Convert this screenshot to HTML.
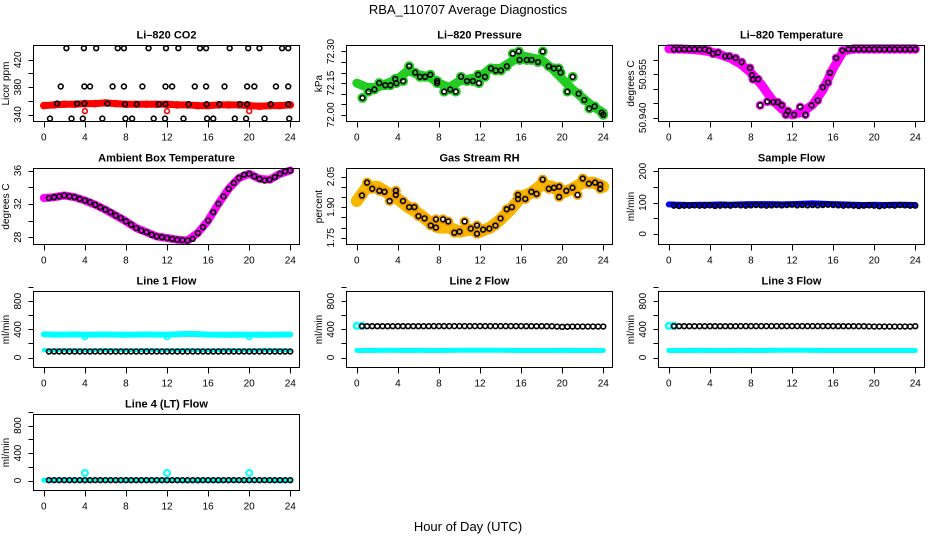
<!DOCTYPE html>
<html><head><meta charset="utf-8"><style>
body{margin:0;background:#fff}
svg{display:block;font-family:"Liberation Sans",Arial,sans-serif}
</style></head><body>
<svg id="chart" width="936" height="540" viewBox="0 0 936 540" xmlns="http://www.w3.org/2000/svg">
<rect width="936" height="540" fill="#fff"/>
<text x="468" y="14" font-size="13" text-anchor="middle">RBA_110707  Average Diagnostics</text>
<text x="468" y="531" font-size="13" text-anchor="middle">Hour of Day (UTC)</text>
</svg>
<script>
const H25=[0,1,2,3,4,5,6,7,8,9,10,11,12,13,14,15,16,17,18,19,20,21,22,23,24];
const HH=[0.5,1,1.5,2,2.5,3,3.5,4,4.5,5,5.5,6,6.5,7,7.5,8,8.5,9,9.5,10,10.5,11,11.5,12,12.5,13,13.5,14,14.5,15,15.5,16,16.5,17,17.5,18,18.5,19,19.5,20,20.5,21,21.5,22,22.5,23,23.5,24];
const xTicks=[0,4,8,12,16,20,24];

// CO2
const co2Band=[353,354,355,355,356,356,357,356,355,355,355,355,355,354,354,353,353,354,354,354,353,352,353,353,354];
const co2OutHours=[4,12,20];
const co2Out=[345,345,345];
const co2PtHours=[2.2,3.9,5.1,7.2,7.8,10.2,11.9,13.1,15.2,15.8,18.1,19.9,21.0,23.2,23.8,
1.65,3.95,4.5,6.7,7.8,9.6,11.85,12.5,14.7,15.8,17.6,19.8,20.5,22.6,23.8,
1.3,3.25,3.95,6.2,7.9,9.05,11.2,11.85,14.1,15.85,17.1,19.1,19.8,22.1,23.8,
0.6,2.7,3.8,5.7,7.95,8.6,10.7,11.8,13.6,15.9,16.5,18.6,19.7,21.5,23.9];
const co2PtVals=[437,437,437,437,437,437,437,437,437,437,437,437,437,437,437,
381,381,381,381,381,381,381,381,381,381,381,381,381,381,381,
356,356,356,356,355,355,355,355,355,355,355,355,355,355,355,
334,334,334,334,334,334,334,334,334,334,334,334,334,334,334];

// Pressure
const presBand=[72.15,72.13,72.13,72.15,72.17,72.21,72.19,72.18,72.15,72.13,72.16,72.17,72.18,72.22,72.22,72.25,72.28,72.27,72.26,72.22,72.17,72.12,72.08,72.04,72.01];
const presPtHours=[0.55,1.14,1.72,2.18,2.77,3.27,3.74,3.85,4.51,5.10,5.68,6.15,6.65,7.16,7.82,7.82,8.51,9.10,9.64,10.15,10.73,11.31,11.82,11.89,12.48,13.06,13.52,14.03,14.61,15.19,15.78,15.85,16.55,17.02,17.64,18.11,18.69,19.19,19.66,19.85,20.51,21.02,21.60,22.15,22.65,23.16,23.85,24.0];
const presPtVals=[72.08,72.11,72.12,72.15,72.14,72.14,72.17,72.15,72.16,72.23,72.20,72.18,72.18,72.19,72.16,72.15,72.11,72.12,72.11,72.18,72.16,72.16,72.19,72.15,72.18,72.22,72.21,72.21,72.23,72.29,72.30,72.26,72.26,72.26,72.25,72.30,72.23,72.22,72.22,72.20,72.11,72.18,72.10,72.07,72.03,72.04,72.01,72.00];

// Li-820 temperature
const tempBand=[50.9638,50.9638,50.9636,50.9633,50.9628,50.9618,50.9605,50.9585,50.9555,50.9515,50.9465,50.9430,50.9410,50.9420,50.9445,50.9495,50.9570,50.9630,50.9638,50.9638,50.9638,50.9638,50.9638,50.9638,50.9638];
const tempPtHours=[0.5,1.0,1.5,2.0,2.5,3.0,3.5,3.9,4.3,4.8,5.5,5.9,6.5,7.1,7.9,8.1,8.2,8.7,8.9,9.6,10.2,10.6,11.0,11.4,11.6,12.2,12.8,13.3,13.9,14.5,15.0,15.5,15.7,16.3,16.9,17.5,18,18.5,19,19.5,20,20.5,21,21.5,22,22.5,23,23.5,24];
const tempPtVals=[50.9636,50.9636,50.9636,50.9636,50.9636,50.9636,50.9636,50.9632,50.9621,50.9625,50.9612,50.9612,50.9606,50.9592,50.9572,50.9547,50.9533,50.9533,50.9443,50.9456,50.9454,50.9454,50.9443,50.9411,50.9423,50.9411,50.9437,50.9411,50.9443,50.9460,50.9505,50.9522,50.9555,50.9606,50.9632,50.9636,50.9636,50.9636,50.9636,50.9636,50.9636,50.9636,50.9636,50.9636,50.9636,50.9636,50.9636,50.9636,50.9636];

// Ambient box temperature
const ambBand=[32.7,32.8,33.0,32.8,32.4,31.9,31.3,30.6,29.9,29.1,28.6,28.1,27.9,27.7,27.6,28.5,30.0,32.0,33.8,35.1,35.6,35.0,34.9,35.6,36.0];
const ambPts=[32.7,32.8,32.9,33.0,32.9,32.8,32.6,32.4,32.2,31.9,31.6,31.3,31.0,30.6,30.3,29.9,29.5,29.1,28.8,28.6,28.3,28.1,28.0,27.9,27.8,27.7,27.65,27.6,27.8,28.5,29.2,30.0,31.0,32.0,32.9,33.8,34.5,35.1,35.5,35.6,35.3,35.0,34.8,34.9,35.2,35.6,35.9,36.0];

// Gas stream RH
const rhBand=[1.93,2.00,2.00,1.97,1.94,1.90,1.87,1.83,1.80,1.80,1.78,1.79,1.78,1.80,1.84,1.89,1.95,1.97,2.01,2.00,1.97,1.99,2.02,2.02,2.00];
const rhPtHours=[0.5,1.0,1.5,2.2,2.7,3.2,3.8,3.8,4.5,5.1,5.6,6.0,6.6,7.2,7.7,7.7,8.4,8.9,9.5,10.0,10.5,11.1,11.7,11.7,12.3,12.9,13.5,14.0,14.6,15.1,15.7,15.7,16.4,17.0,17.5,18.1,18.7,19.2,19.7,19.7,20.4,21.0,21.5,22.0,22.6,23.2,23.7,23.7];
const rhPtVals=[1.957,2.02,1.99,1.98,1.975,1.93,1.96,1.98,1.93,1.90,1.90,1.856,1.845,1.81,1.80,1.84,1.84,1.83,1.775,1.78,1.83,1.795,1.81,1.77,1.79,1.795,1.81,1.845,1.89,1.90,1.96,1.94,1.94,1.975,1.965,2.035,1.99,1.995,2.0,1.95,1.98,1.995,1.96,2.04,2.015,2.02,2.01,1.99];

// Sample flow
const sfBand=[94,93,92,93,93,94,93,94,95,95,95,94,95,96,97,96,95,94,93,92,93,92,93,93,92];
const sfPts=[90,89,90,90,91,90,90,91,89,90,91,90,92,91,90,91,92,91,90,91,92,91,92,93,91,92,91,92,91,92,93,92,91,90,91,90,89,90,91,90,88,90,91,90,92,91,90,90];

// Line 1 flow
const l1Top=[330,325,326,328,322,325,327,326,324,326,327,325,324,330,336,332,326,324,323,325,322,326,324,325,327];
const l1TopOutHours=[4,12,20];
const l1TopOut=[290,290,290];
const l1Low=[105,104,106,105,104,105,106,105,104,105,106,105,104,105,106,105,104,105,106,105,104,105,106,105,104];
const l1Pts=[85,85,85,85,85,85,85,85,85,85,85,85,85,85,85,85,85,85,85,85,85,85,85,85,85,85,85,85,85,85,85,85,85,85,85,85,85,85,85,85,85,85,85,85,85,85,85,85];

// Line 2 flow
const l2TopHours=[0,0.5];
const l2Top=[450,450];
const l2Low=[100,100,101,102,101,100,101,100,100,101,102,103,104,103,102,101,100,100,99,100,101,100,100,100,99];
const l2Pts=[445,445,445,445,445,445,445,445,445,445,445,445,445,445,446,446,446,446,446,446,446,446,446,446,446,446,446,446,446,446,446,446,445,445,445,445,444,444,440,436,438,440,440,440,440,440,440,440];

// Line 3 flow
const l3TopHours=[0,0.5];
const l3Top=[450,450];
const l3Low=[100,100,100,101,100,100,100,101,100,100,101,102,103,102,101,100,100,100,99,100,100,100,100,100,99];
const l3Pts=[445,445,445,445,445,445,445,445,445,445,445,445,445,446,446,446,446,446,446,446,446,446,446,446,446,446,446,446,446,446,446,446,445,445,445,445,444,444,442,440,440,440,440,440,440,440,440,445];

// Line 4 flow
const l4Band=[5,5,4,5,5,5,4,5,5,5,4,5,5,2,-5,-5,2,-3,4,5,2,5,2,-2,2];
const l4OutHours=[4,12,20];
const l4Out=[110,110,110];
const l4Pts=[5,5,5,5,5,5,5,5,5,5,5,5,5,5,5,5,5,5,5,5,5,5,5,5,5,5,5,5,5,5,5,5,5,5,5,5,5,5,5,5,5,5,5,5,5,5,5,5];

const NS="http://www.w3.org/2000/svg";
const svg=document.getElementById('chart');
function mk(tag,attrs,parent){const e=document.createElementNS(NS,tag);for(const k in attrs)e.setAttribute(k,attrs[k]);(parent||svg).appendChild(e);return e;}

function panel(cfg){
  const left=Math.round(33+312.5*cfg.col)+0.5, top=45+123*cfg.row+0.5, w=266, h=76;
  const g=mk('g',{});
  
  
  const xs=v=>left+10.3+v*10.27;
  const ys=v=>top+cfg.a[1]+(v-cfg.a[0])*(cfg.b[1]-cfg.a[1])/(cfg.b[0]-cfg.a[0]);
  const sx=v=>Math.round(xs(v))+0.5;
  const sy=v=>Math.round(ys(v))+0.5;
  // series first (under frame)
  cfg.series.forEach(s=>{
    const sg=mk('g',{},g);
    
    
    if(s.band){
      const pts=s.x.map((hv,i)=>xs(hv).toFixed(1)+','+ys(s.y[i]).toFixed(1)).join(' ');
      mk('polyline',{points:pts,fill:'none',stroke:s.color,'stroke-width':s.band,'stroke-linejoin':'round','stroke-linecap':'round'},sg);
    }
    if(s.pts!==false){
      s.x.forEach((hv,i)=>{
        const c=mk('circle',{cx:xs(hv),cy:ys(s.y[i]),r:s.r||2.4,fill:'none',stroke:s.color,'stroke-width':s.sw||1.6},sg);
        
        
      });
    }
  });
  const box=mk('rect',{x:left,y:top,width:w,height:h,fill:'none',stroke:'#000','stroke-width':1,'shape-rendering':'crispEdges'},g);
  
  
  const t=mk('text',{x:left+w/2,y:top-7,'font-size':11,'font-weight':'bold','text-anchor':'middle'},g);
  t.textContent=cfg.title;
  
  
  // x axis
  const xa=mk('g',{'shape-rendering':'crispEdges'},g);
  
  
  xTicks.forEach(v=>{
    mk('line',{x1:sx(v),x2:sx(v),y1:top+h,y2:top+h+6,stroke:'#000'},xa);
    const l=mk('text',{x:xs(v),y:top+h+19,'font-size':10,'text-anchor':'middle'},xa);
    l.textContent=v;
    
    
  });
  // y axis
  const ya=mk('g',{'shape-rendering':'crispEdges'},g);
  
  
  const tk=cfg.ticks;
  tk.forEach(v=>{
    mk('line',{x1:left-5,x2:left,y1:sy(v),y2:sy(v),stroke:'#000'},ya);
  });
  cfg.labels.forEach((lab,i)=>{
    const yy=ys(cfg.labelVals[i]);
    const l=mk('text',{x:left-15,y:yy,'font-size':10,'text-anchor':'middle','dominant-baseline':'central',transform:`rotate(-90 ${left-15} ${yy})`},ya);
    l.textContent=lab;
    
    
  });
  const yt=mk('text',{x:left-27,y:top+h/2,'font-size':10,'text-anchor':'middle','dominant-baseline':'central',transform:`rotate(-90 ${left-27} ${top+h/2})`},ya);
  yt.textContent=cfg.ylab;
  
  
}

const flowTicks=[0,200,400,600,800,1000];
panel({name:'panel-co2',col:0,row:0,title:'Li–820 CO2',ylab:'Licor ppm',a:[340,69],b:[420,14.3],ticks:[340,360,380,400,420],labels:['340','380','420'],labelVals:[340,380,420],
  series:[{name:'co2-red-band',x:H25,y:co2Band,color:'#f00',band:7,pts:true,r:3},
          {name:'co2-red-outliers',x:co2OutHours,y:co2Out,color:'#f00'},
          {name:'co2-black-points',x:co2PtHours,y:co2PtVals,color:'#000'}]});
panel({name:'panel-pressure',col:1,row:0,title:'Li–820 Pressure',ylab:'kPa',a:[72.00,69.3],b:[72.30,6],ticks:[72.00,72.05,72.10,72.15,72.20,72.25,72.30],labels:['72.00','72.15','72.30'],labelVals:[72.00,72.15,72.30],
  series:[{name:'pressure-green-band',x:H25,y:presBand,color:'#22cc22',band:9,pts:false},
          {name:'pressure-green-points',x:presPtHours,y:presPtVals,color:'#22cc22',r:3.5,sw:3},
          {name:'pressure-black-points',x:presPtHours,y:presPtVals,color:'#000'}]});
panel({name:'panel-li820-temperature',col:2,row:0,title:'Li–820 Temperature',ylab:'degrees C',a:[50.940,72.3],b:[50.960,14.3],ticks:[50.940,50.945,50.950,50.955,50.960],labels:['50.940','50.955'],labelVals:[50.940,50.955],
  series:[{name:'temp-magenta-band',x:H25,y:tempBand,color:'#f0f',band:9,pts:false},
          {name:'temp-magenta-points',x:tempPtHours,y:tempPtVals,color:'#f0f',r:3.2,sw:2.5},
          {name:'temp-black-points',x:tempPtHours,y:tempPtVals,color:'#000'}]});
panel({name:'panel-ambient-temperature',col:0,row:1,title:'Ambient Box Temperature',ylab:'degrees C',a:[28,68.7],b:[36,2],ticks:[28,30,32,34,36],labels:['28','32','36'],labelVals:[28,32,36],
  series:[{name:'ambient-magenta-band',x:H25,y:ambBand,color:'#f0f',band:8,pts:false},
          {name:'ambient-black-points',x:HH,y:ambPts,color:'#000'}]});
panel({name:'panel-gas-rh',col:1,row:1,title:'Gas Stream RH',ylab:'percent',a:[1.75,69.3],b:[2.05,8],ticks:[1.75,1.80,1.85,1.90,1.95,2.00,2.05],labels:['1.75','1.90','2.05'],labelVals:[1.75,1.90,2.05],
  series:[{name:'rh-orange-band',x:H25,y:rhBand,color:'#f7b800',band:12,pts:false},
          {name:'rh-orange-points',x:rhPtHours,y:rhPtVals,color:'#f2a000',r:3.5,sw:3},
          {name:'rh-black-points',x:rhPtHours,y:rhPtVals,color:'#000'}]});
panel({name:'panel-sample-flow',col:2,row:1,title:'Sample Flow',ylab:'ml/min',a:[0,65.3],b:[200,2.7],ticks:[0,50,100,150,200],labels:['0','100','200'],labelVals:[0,100,200],
  series:[{name:'sample-blue-band',x:H25,y:sfBand,color:'#00f',band:6,pts:false},
          {name:'sample-black-points',x:HH,y:sfPts,color:'#000'}]});
panel({name:'panel-line1-flow',col:0,row:2,title:'Line 1 Flow',ylab:'ml/min',a:[0,66],b:[800,9.7],ticks:flowTicks,labels:['0','400','800'],labelVals:[0,400,800],
  series:[{name:'line1-cyan-top',x:H25,y:l1Top,color:'#0ff',band:6,pts:false},
          {name:'line1-cyan-dips',x:l1TopOutHours,y:l1TopOut,color:'#0ff'},
          {name:'line1-cyan-low',x:H25,y:l1Low,color:'#0ff',band:4,pts:false},
          {name:'line1-black-points',x:HH,y:l1Pts,color:'#000'}]});
panel({name:'panel-line2-flow',col:1,row:2,title:'Line 2 Flow',ylab:'ml/min',a:[0,66],b:[800,9.7],ticks:flowTicks,labels:['0','400','800'],labelVals:[0,400,800],
  series:[{name:'line2-cyan-top',x:l2TopHours,y:l2Top,color:'#0ff',r:2.8,sw:2.5},
          {name:'line2-cyan-low',x:H25,y:l2Low,color:'#0ff',band:5,pts:false},
          {name:'line2-black-points',x:HH,y:l2Pts,color:'#000'}]});
panel({name:'panel-line3-flow',col:2,row:2,title:'Line 3 Flow',ylab:'ml/min',a:[0,66],b:[800,9.7],ticks:flowTicks,labels:['0','400','800'],labelVals:[0,400,800],
  series:[{name:'line3-cyan-top',x:l3TopHours,y:l3Top,color:'#0ff',r:2.8,sw:2.5},
          {name:'line3-cyan-low',x:H25,y:l3Low,color:'#0ff',band:5,pts:false},
          {name:'line3-black-points',x:HH,y:l3Pts,color:'#000'}]});
panel({name:'panel-line4-flow',col:0,row:3,title:'Line 4 (LT) Flow',ylab:'ml/min',a:[0,66],b:[800,11],ticks:flowTicks,labels:['0','400','800'],labelVals:[0,400,800],
  series:[{name:'line4-cyan-band',x:H25,y:l4Band,color:'#0ff',band:5,pts:false},
          {name:'line4-cyan-outliers',x:l4OutHours,y:l4Out,color:'#0ff',r:3,sw:2},
          {name:'line4-black-points',x:HH,y:l4Pts,color:'#000'}]});
</script>
</body></html>
